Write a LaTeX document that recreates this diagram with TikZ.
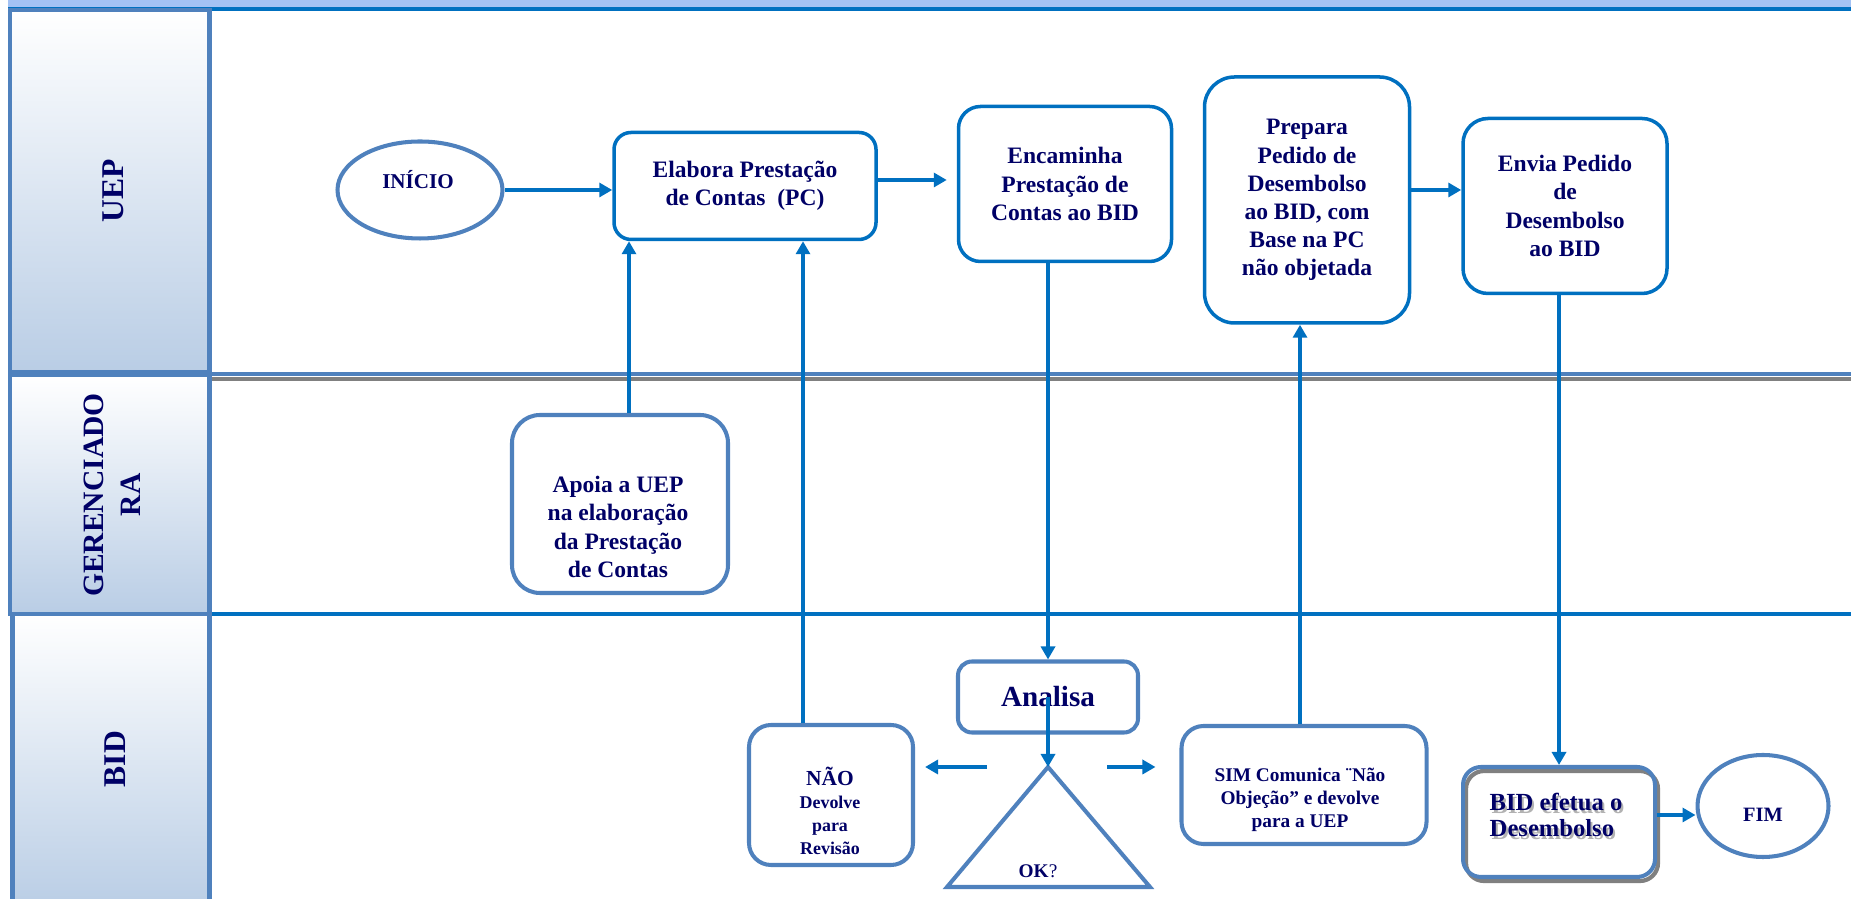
\documentclass[tikz,border=0pt]{standalone}
\usepackage{fontspec}
\setmainfont{Liberation Serif}
\usetikzlibrary{arrows.meta}
\usetikzlibrary{shapes.geometric}
\definecolor{navy}{RGB}{0,0,102}
\definecolor{fblue}{RGB}{0,112,192}
\definecolor{steel}{RGB}{79,129,189}
\definecolor{lanebot}{RGB}{185,205,229}
\definecolor{band}{RGB}{164,194,244}
\newcommand{\fsz}[2]{\fontsize{#1}{#2}\selectfont\bfseries}

\begin{document}
\begin{tikzpicture}
   \tikzstyle{every node} = [text=navy,inner sep=0pt]
   \tikzstyle{ubox} = [draw=fblue,line width=1pt,rounded corners=2.2mm,
     align=center,font=\fsz{6.7}{8}]
   \tikzstyle{lbox} = [draw=steel,line width=1.15pt,rounded corners=2.2mm]
   \tikzstyle{term} = [draw=steel,line width=1.15pt,ellipse]
   \tikzstyle{lane} = [draw=steel,line width=1.15pt,top color=white,
     bottom color=lanebot]
   \tikzstyle{flow} = [draw=fblue,line width=.95pt,
     -{Triangle[length=1.3mm,width=1.4mm]}]
   \tikzstyle{txt} = [align=center]
   \useasboundingbox (0,0) rectangle (18.51,-8.99);
   %% faixas
   \fill[band] (0.08,0) rectangle (18.51,-0.08);
   \draw[fblue,line width=1.1pt] (0.08,-0.09) -- (18.51,-0.09);
   \draw[gray,line width=1.1pt] (2.10,-3.79) -- (18.51,-3.79);
   \draw[steel,line width=1.1pt] (2.10,-3.74) -- (18.51,-3.74);
   \draw[fblue,line width=1pt] (2.10,-6.14) -- (18.51,-6.14);
   \path[lane] (0.10,-0.10) rectangle (2.095,-3.725);
   \path[lane] (0.10,-3.75) rectangle (2.095,-6.14);
   \path[lane] (0.125,-6.14) rectangle (2.095,-9.10);
   \node[rotate=90,font=\fsz{9}{11}] (luep) at (1.13,-1.91) {UEP};
   \node[rotate=90,txt,font=\fsz{8.4}{10.6}] (lger) at (1.12,-4.95)
     {GERENCIADO\\RA};
   \node[rotate=90,font=\fsz{9}{11}] (lbid) at (1.15,-7.59) {BID};
   %% UEP
   \node[term,minimum width=1.65cm,minimum height=0.97cm] (ini) at (4.20,-1.90) {};
   \node[font=\fsz{6}{7}] (tini) at (4.18,-1.80) {INÍCIO};
   \node[ubox,minimum width=2.62cm,minimum height=1.07cm,rounded corners=1.7mm]
     (elab) at (7.45,-1.86) {Elabora Prestação\\de Contas \ (PC)};
   \node[ubox,minimum width=2.13cm,minimum height=1.55cm] (enc) at (10.65,-1.84)
     {Encaminha\\Prestação de\\Contas ao BID};
   \node[ubox,minimum width=2.05cm,minimum height=2.46cm,rounded corners=3mm]
     (prep) at (13.07,-2.00)
     {Prepara\\Pedido de\\Desembolso\\ao BID, com\\Base na PC\\não objetada};
   \node[ubox,minimum width=2.04cm,minimum height=1.75cm,rounded corners=2.5mm]
     (env) at (15.65,-2.06) {Envia Pedido\\de\\Desembolso\\ao BID};
   %% GERENCIADORA
   \node[lbox,minimum width=2.16cm,minimum height=1.78cm,rounded corners=2.8mm]
     (apoia) at (6.20,-5.04) {};
   \node[txt,font=\fsz{6.7}{8}] (tapoia) at (6.18,-5.27)
     {Apoia a UEP\\na elaboração\\da Prestação\\de Contas};
   %% BID
   \node[lbox,minimum width=1.80cm,minimum height=0.71cm,rounded corners=1.4mm,
     font=\fsz{8.3}{10}] (ana) at (10.48,-6.97) {Analisa};
   \coordinate (okt) at (10.48,-7.67);
   \draw[steel,line width=1.15pt] (okt) -- (11.50,-8.87) -- (9.47,-8.87) -- cycle;
   \node[font=\fsz{5.5}{6.5}] (tok) at (10.38,-8.71) {OK\mdseries ?};
   \node[lbox,minimum width=1.64cm,minimum height=1.40cm] (nao) at (8.31,-7.95) {};
   \node[txt,font=\fsz{5.1}{6.5}] (tnao) at (8.30,-8.11)
     {{\fsz{6.1}{7}NÃO}\\Devolve\\para\\Revisão};
   \node[lbox,minimum width=2.45cm,minimum height=1.18cm] (sim) at (13.04,-7.85) {};
   \node[txt,font=\fsz{5.5}{6.5}] (tsim) at (13.00,-8.00)
     {SIM Comunica ¨Não\\Objeção” e devolve\\para a UEP};
   \draw[gray,line width=1.2pt,rounded corners=1.8mm] (14.66,-7.71) rectangle (16.58,-8.81);
   \node[lbox,minimum width=1.92cm,minimum height=1.10cm,rounded corners=1.8mm]
     (bide) at (15.59,-8.22) {};
   \node[txt,align=left,font=\fsz{7}{7.4},text=gray!60] (sbide) at (15.58,-8.18)
     {BID efetua o\\Desembolso};
   \node[txt,align=left,font=\fsz{7}{7.4}] (tbide) at (15.56,-8.15)
     {BID efetua o\\Desembolso};
   \node[term,minimum width=1.31cm,minimum height=1.02cm] (fim) at (17.63,-8.06) {};
   \node[font=\fsz{5.8}{7}] (tfim) at (17.63,-8.15) {FIM};
   %% setas
   \draw[flow] (ini.east) -- (ini.east -| elab.west);
   \draw[flow,shorten >=1mm] ([yshift=.6mm]elab.east) -- ([yshift=.6mm]elab.east -| enc.west);
   \draw[flow] ([yshift=1mm]prep.east) -- ([yshift=1mm]prep.east -| env.west);
   \draw[flow] (ana.north |- enc.south) -- (ana.north);
   \draw[flow] (bide.north |- env.south) -- (bide.north);
   \draw[flow] ([xshift=.9mm]apoia.north) -- ([xshift=.9mm]apoia.north |- elab.south);
   \draw[flow] ([xshift=-2.8mm]nao.north) -- ([xshift=-2.8mm]nao.north |- elab.south);
   \draw[flow] ([xshift=-.4mm]sim.north) -- ([xshift=-.4mm]sim.north |- prep.south);
   \draw[flow] (ana.center) -- (okt);
   \coordinate (okl) at (9.87,-7.67);
   \coordinate (okr) at (11.07,-7.67);
   \draw[flow,shorten >=1mm] (okl) -- (okl -| nao.east);
   \draw[flow,shorten >=2.4mm] (okr) -- (okr -| sim.west);
   \draw[flow] ([yshift=.7mm]bide.east) -- ([yshift=.7mm]bide.east -| fim.west);
\end{tikzpicture}
\end{document}
